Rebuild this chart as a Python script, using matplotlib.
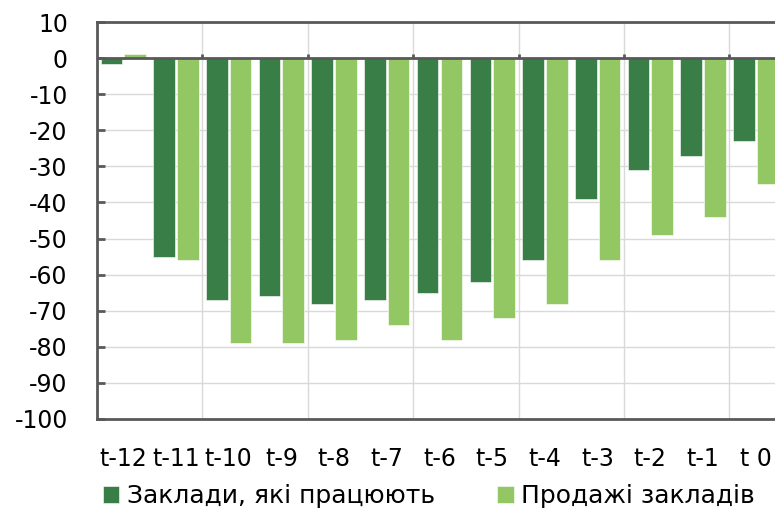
import numpy as np
import matplotlib.pyplot as plt

plt.rcParams['font.family'] = ['DejaVu Sans']
plt.rcParams['axes.unicode_minus'] = False

periods = ['t-12', 't-11', 't-10', 't-9', 't-8', 't-7', 't-6', 't-5', 't-4', 't-3', 't-2', 't-1', 't 0']
working = [-1.5, -55, -67, -66, -68, -67, -65, -62, -56, -39, -31, -27, -23]
sales = [1, -56, -79, -79, -78, -74, -78, -72, -68, -56, -49, -44, -35]
series_names = ['Заклади, які працюють', 'Продажі закладів']

dark = '#3a7e47'
light = '#92c763'

fig = plt.figure(figsize=(7.75, 5.09), dpi=100)
ax = fig.add_axes([97 / 775, 90 / 509, 685 / 775, 397 / 509])

x = np.arange(len(periods))
w = 0.41
ax.bar(x - 0.225, working, w, color=dark, edgecolor='white', linewidth=0.4, label=series_names[0], zorder=3)
ax.bar(x + 0.225, sales, w, color=light, edgecolor='white', linewidth=0.4, label=series_names[1], zorder=3)

ax.set_xlim(-0.5, len(periods) - 0.5)
ax.set_ylim(-100, 10)
ax.set_yticks(np.arange(-100, 11, 10))
ax.set_xticks(x)
ax.set_xticklabels(periods)

# grid: horizontal every 10, vertical every 2 categories
ax.set_xticks(np.arange(-0.5, len(periods), 2), minor=True)
ax.grid(axis='y', color='#d9d9d9', linewidth=1, zorder=0)
ax.grid(axis='x', which='minor', color='#d9d9d9', linewidth=1, zorder=0)
ax.axhline(0, color='#595959', linewidth=2, zorder=4)
ax.vlines(np.arange(1.5, len(periods), 2), 0, 1.2, color='#595959', linewidth=2, zorder=4)

for side in ['left', 'top', 'bottom', 'right']:
    ax.spines[side].set_color('#595959')
    ax.spines[side].set_linewidth(2)

ax.tick_params(axis='y', direction='in', length=6, width=2, color='#595959', labelsize=17, pad=21)
ax.tick_params(axis='x', which='both', length=0, labelsize=17, pad=20)

fig.legend(loc='center left', bbox_to_anchor=(93 / 775, 13 / 509), ncol=2, frameon=False,
           fontsize=18, handlelength=0.65, handleheight=0.65, handletextpad=0.3,
           columnspacing=2.5, borderaxespad=0)

fig.savefig('out.png', dpi=100)
